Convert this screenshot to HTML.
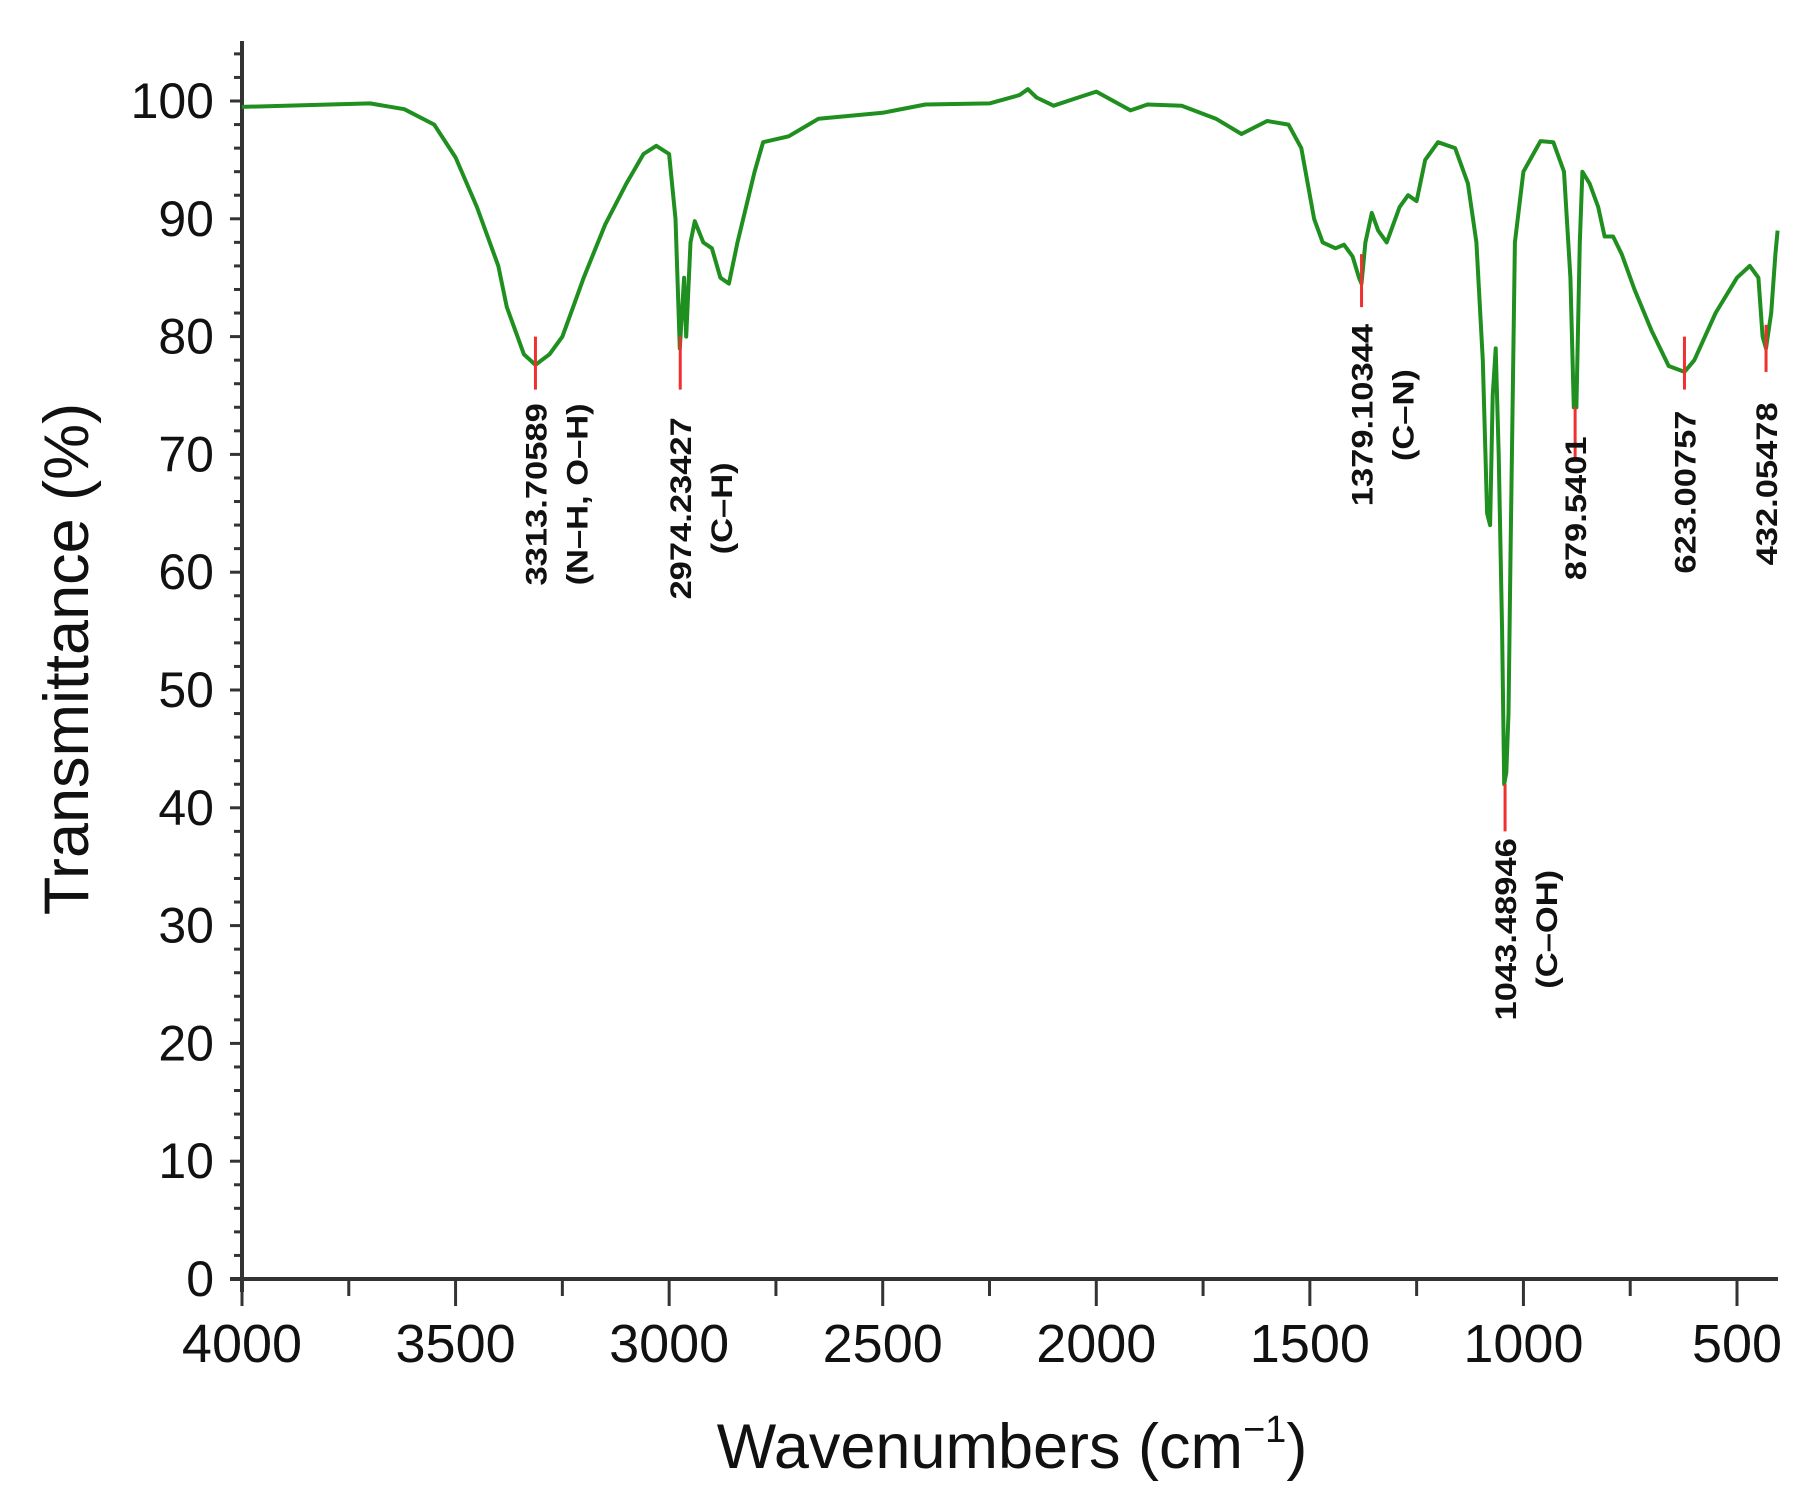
<!DOCTYPE html>
<html><head><meta charset="utf-8"><style>
html,body{margin:0;padding:0;background:#fff}
svg{display:block}
text{font-family:"Liberation Sans",Arial,sans-serif;fill:#111}
</style></head><body>
<svg id="chart" width="1819" height="1495" viewBox="0 0 1819 1495" xmlns="http://www.w3.org/2000/svg">
<g id="axes"></g>
<path id="spectrum" fill="none" stroke="#1f8f1f" stroke-width="4" stroke-linejoin="round"></path>
<g id="marks"></g>
<text transform="translate(88,659) rotate(-90)" text-anchor="middle" font-size="63">Transmittance (%)</text>
<text x="1012" y="1468" text-anchor="middle" font-size="63">Wavenumbers (cm<tspan font-size="38" dy="-26">−1</tspan><tspan dy="26">)</tspan></text>
</svg>
<script>
const wavenumbers=[4000,3700,3620,3550,3500,3450,3400,3380,3340,3313,3280,3250,3220,3200,3150,3100,3060,3030,3000,2985,2975,2965,2960,2950,2940,2920,2900,2880,2860,2840,2800,2780,2720,2650,2500,2400,2250,2180,2160,2140,2100,2050,2000,1960,1920,1880,1800,1720,1660,1600,1550,1520,1490,1470,1440,1420,1400,1385,1379,1370,1355,1340,1320,1290,1270,1250,1230,1200,1160,1130,1110,1095,1085,1078,1072,1065,1058,1050,1045,1040,1035,1030,1020,1000,960,930,905,890,882,876,868,862,845,825,810,790,770,740,700,660,623,600,550,500,470,450,440,432,420,410,405];
const transmittance=[99.5,99.8,99.3,98,95.2,91,86,82.5,78.5,77.6,78.5,80,83,85,89.5,93,95.5,96.2,95.5,90,79,85,80,88,89.8,88,87.5,85,84.5,88,94,96.5,97,98.5,99,99.7,99.8,100.5,101,100.3,99.6,100.2,100.8,100,99.2,99.7,99.6,98.5,97.2,98.3,98,96,90,88,87.5,87.8,86.8,85,84.5,88,90.5,89,88,91,92,91.5,95,96.5,96,93,88,78,65,64,75,79,70,55,42,43,48,62,88,94,96.6,96.5,94,85,74,74,88,94,93,91,88.5,88.5,87,84,80.5,77.5,77,78,82,85,86,85,80,79,82,87,89];
const peakWn=[3313,2974,1379,1043,879,623,432];
const peakTop=[80,80,87,42,74,80,81];
const peakBottom=[75.5,75.5,82.5,38,69.5,75.5,77];
const peakLabel1=["3313.70589","2974.23427","1379.10344","1043.48946","879.5401","623.00757","432.05478"];
const peakLabel2=["(N–H, O–H)","(C–H)","(C–N)","(C–OH)","","",""];
const peakLabelCenter=[424,436,356,797,436,422,415];
const yTicks=[0,10,20,30,40,50,60,70,80,90,100];
const xTicks=[4000,3500,3000,2500,2000,1500,1000,500];
const NS="http://www.w3.org/2000/svg";
function X(w){return 242+(4000-w)*(1737-242)/3500;}
function Y(t){return 1279-t*(1279-101)/100;}
const axes=document.getElementById('axes');
function mk(tag,attrs,parent){const e=document.createElementNS(NS,tag);for(const k in attrs)e.setAttribute(k,attrs[k]);parent.appendChild(e);return e;}
let a=mk('line',{x1:242,y1:41,x2:242,y2:1292,stroke:'#333','stroke-width':4},axes);


a=mk('line',{x1:230,y1:1279,x2:1778,y2:1279,stroke:'#333','stroke-width':4},axes);


for(let t=0;t<=104;t+=2){const l=mk('line',{x1:t%10===0?230:234,y1:Y(t),x2:242,y2:Y(t),stroke:'#333','stroke-width':3},axes);

}
yTicks.forEach(t=>{const tx=mk('text',{x:214,y:Y(t)+17,'text-anchor':'end','font-size':50},axes);tx.textContent=t;

});
for(let w=4000;w>=500;w-=250){const l=mk('line',{x1:X(w),y1:1279,x2:X(w),y2:w%500===0?1306:1296,stroke:'#333','stroke-width':3},axes);

}
xTicks.forEach(w=>{const tx=mk('text',{x:X(w),y:1362,'text-anchor':'middle','font-size':54},axes);tx.textContent=w;

});
let d='';wavenumbers.forEach((w,i)=>{d+=(i?'L':'M')+X(w).toFixed(1)+','+Y(transmittance[i]).toFixed(1);});
document.getElementById('spectrum').setAttribute('d',d);
const marks=document.getElementById('marks');
function stretch(t){const n=t.getComputedTextLength();t.setAttribute('textLength',(n*1.15).toFixed(1));t.setAttribute('lengthAdjust','spacingAndGlyphs');}
peakWn.forEach((w,i)=>{
 const l=mk('line',{x1:X(w),y1:Y(peakTop[i]),x2:X(w),y2:Y(peakBottom[i]),stroke:'#f03030','stroke-width':3},marks);
 
 
 const cy=peakLabelCenter[i]*1.166;
 const t1=mk('text',{transform:`translate(${X(w)+11},${cy}) rotate(-90)`,'text-anchor':'middle','font-size':30,'font-weight':'bold'},marks);
 t1.textContent=peakLabel1[i];
 
 
 stretch(t1);
 if(peakLabel2[i]){const t2=mk('text',{transform:`translate(${X(w)+52},${cy}) rotate(-90)`,'text-anchor':'middle','font-size':30,'font-weight':'bold'},marks);
 t2.textContent=peakLabel2[i];
 
 
 stretch(t2);}
});
</script>
</body></html>
